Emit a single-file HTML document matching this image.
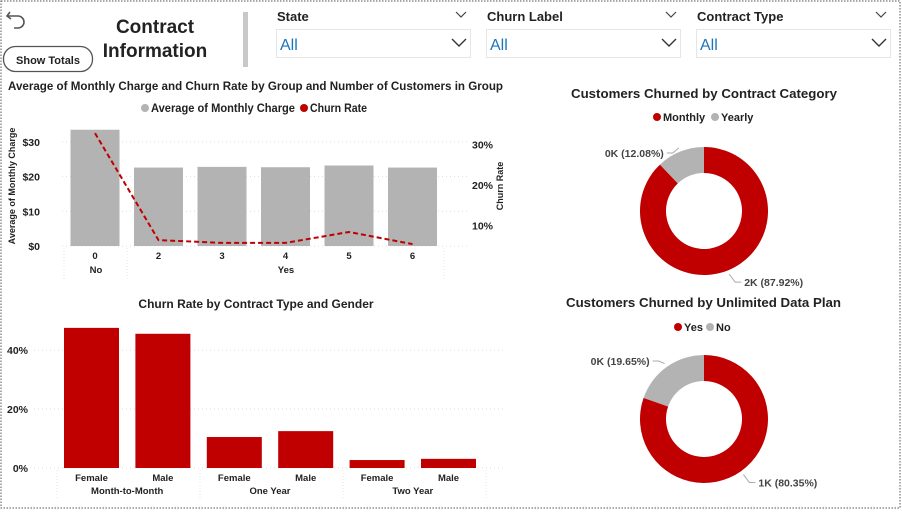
<!DOCTYPE html>
<html><head><meta charset="utf-8">
<style>
body{margin:0;width:902px;height:510px;overflow:hidden;background:#fff;font-family:"Liberation Sans","DejaVu Sans",sans-serif;}
svg text{font-family:"Liberation Sans","DejaVu Sans",sans-serif;}
</style></head>
<body>
<svg id="s" width="902" height="510" xmlns="http://www.w3.org/2000/svg">
<rect x="1" y="1" width="899" height="507" fill="none" stroke="#555" stroke-dasharray="1.5,1.5"/>
<g><path d="M10 12 L7 16 L11 19 M7 16 H18 a6 6 0 0 1 0 12 H14" fill="none" stroke="#555" stroke-width="1.6"/></g>
<g><rect x="3.5" y="46.5" width="89" height="25" rx="12" fill="#fff" stroke="#555" stroke-width="1.3"/><text x="48" y="64" font-size="11" font-weight="bold" text-anchor="middle" fill="#222">Show Totals</text></g>
<text x="155" y="33" font-size="19" font-weight="bold" text-anchor="middle" fill="#222">Contract</text>
<text x="155" y="57" font-size="19" font-weight="bold" text-anchor="middle" fill="#222">Information</text>
<rect x="243" y="12" width="5" height="55" fill="#c8c8c8"/>
<g id="slicers"></g>
<text x="8" y="90" font-size="12" font-weight="bold" fill="#222" textLength="495" lengthAdjust="spacingAndGlyphs">Average of Monthly Charge and Churn Rate by Group and Number of Customers in Group</text>
<g><circle cx="145" cy="108" r="4" fill="#b3b3b3"/><text x="151" y="112" font-size="11.5" font-weight="bold" fill="#222" textLength="144" lengthAdjust="spacingAndGlyphs">Average of Monthly Charge</text><circle cx="304" cy="108" r="4" fill="#c00000"/><text x="310" y="112" font-size="11.5" font-weight="bold" fill="#222" textLength="57" lengthAdjust="spacingAndGlyphs">Churn Rate</text></g>
<text transform="translate(15,186) rotate(-90)" font-size="9" font-weight="bold" text-anchor="middle" fill="#222">Average of Monthly Charge</text>
<text transform="translate(503,186) rotate(-90)" font-size="9" font-weight="bold" text-anchor="middle" fill="#222">Churn Rate</text>
<g id="c1"></g>
<text x="256" y="308" font-size="12" font-weight="bold" text-anchor="middle" fill="#222">Churn Rate by Contract Type and Gender</text>
<g id="c2"></g>
<text x="571" y="98" font-size="12.5" font-weight="bold" fill="#222" textLength="266" lengthAdjust="spacingAndGlyphs">Customers Churned by Contract Category</text>
<g><circle cx="657" cy="117" r="4" fill="#c00000"/><text x="663" y="121" font-size="11" font-weight="bold" fill="#222">Monthly</text><circle cx="715" cy="117" r="4" fill="#b3b3b3"/><text x="721" y="121" font-size="11" font-weight="bold" fill="#222">Yearly</text></g>
<text x="566" y="307" font-size="12.5" font-weight="bold" fill="#222" textLength="275" lengthAdjust="spacingAndGlyphs">Customers Churned by Unlimited Data Plan</text>
<g><circle cx="678" cy="327" r="4" fill="#c00000"/><text x="684" y="331" font-size="11" font-weight="bold" fill="#222">Yes</text><circle cx="710" cy="327" r="4" fill="#b3b3b3"/><text x="716" y="331" font-size="11" font-weight="bold" fill="#222">No</text></g>
<g id="d1"></g><g id="d2"></g>
</svg>
<script>
const NS="http://www.w3.org/2000/svg";
function mk(p,t,a,txt){const e=document.createElementNS(NS,t);for(const k in a)e.setAttribute(k,a[k]);if(txt!==undefined)e.textContent=txt;p.appendChild(e);return e;}
const slicerNames=["State","Churn Label","Contract Type"];
const slicerX=[276,486,696];
const sl=document.getElementById('slicers');
slicerNames.forEach((n,i)=>{const x=slicerX[i];
 const g=mk(sl,'g',{});
 
 
 mk(g,'text',{x:x+1,y:21,'font-size':13,'font-weight':'bold',fill:'#222'},n);
 mk(g,'path',{d:`M${x+180} 12 l5 5 l5 -5`,fill:'none',stroke:'#444','stroke-width':1.2});
 mk(g,'rect',{x:x+0.5,y:29.5,width:194,height:28,fill:'#fff',stroke:'#e6e6e6'});
 mk(g,'text',{x:x+4,y:50,'font-size':16,fill:'#1b75bb'},'All');
 mk(g,'path',{d:`M${x+176} 39 l7 7 l7 -7`,fill:'none',stroke:'#333','stroke-width':1.4});
});
const c1Cats=["0","2","3","4","5","6"];
const c1Charge=[33.5,22.6,22.8,22.7,23.2,22.6];
const c1Churn=[32.8,6.4,5.7,5.7,8.4,5.4];
const c1LeftTicks=[0,10,20,30];
const c1RightTicks=[10,20,30];
const c1=document.getElementById('c1');
const y1=v=>246-v*3.47, y1r=v=>266-v*4.05, x1=i=>95+i*63.5;
c1LeftTicks.forEach(t=>{mk(c1,'line',{x1:62,x2:470,y1:y1(t),y2:y1(t),stroke:'#ddd','stroke-dasharray':'1,3'});
 const e=mk(c1,'text',{x:40,y:y1(t)+4,'font-size':10.5,'font-weight':'bold','text-anchor':'end',fill:'#222'},'$'+t);
 });
c1RightTicks.forEach(t=>{const e=mk(c1,'text',{x:472,y:y1r(t)+4,'font-size':10.5,'font-weight':'bold',fill:'#222'},t+'%');
 });
c1Cats.forEach((c,i)=>{const b=mk(c1,'rect',{x:x1(i)-24.5,y:y1(c1Charge[i]),width:49,height:246-y1(c1Charge[i]),fill:'#b3b3b3'});
 
 mk(c1,'text',{x:x1(i),y:259,'font-size':9.5,'font-weight':'bold','text-anchor':'middle',fill:'#222'},c);});
mk(c1,'text',{x:96,y:273,'font-size':9.5,'font-weight':'bold','text-anchor':'middle',fill:'#222'},'No');
mk(c1,'text',{x:286,y:273,'font-size':9.5,'font-weight':'bold','text-anchor':'middle',fill:'#222'},'Yes');
[64,127,444].forEach(x=>mk(c1,'line',{x1:x,x2:x,y1:248,y2:280,stroke:'#e3e3e3','stroke-dasharray':'1,2'}));
const ln=mk(c1,'polyline',{points:c1Churn.map((v,i)=>x1(i)+','+y1r(v)).join(' '),fill:'none',stroke:'#c00000','stroke-width':2,'stroke-dasharray':'5,3'});

const c2Groups=["Month-to-Month","One Year","Two Year"];
const c2Genders=["Female","Male"];
const c2Values=[47.5,45.5,10.5,12.5,2.7,3.1];
const c2Ticks=[0,20,40];
const c2=document.getElementById('c2');
const y2=v=>468-v*2.95, x2=i=>91.5+i*71.4;
c2Ticks.forEach(t=>{mk(c2,'line',{x1:34,x2:505,y1:y2(t),y2:y2(t),stroke:'#ddd','stroke-dasharray':'1,3'});
 const e=mk(c2,'text',{x:28,y:y2(t)+4,'font-size':10.5,'font-weight':'bold','text-anchor':'end',fill:'#222'},t+'%');
 });
c2Values.forEach((v,i)=>{const b=mk(c2,'rect',{x:x2(i)-27.5,y:y2(v),width:55,height:468-y2(v),fill:'#c00000'});
 
 
 mk(c2,'text',{x:x2(i),y:481,'font-size':9.5,'font-weight':'bold','text-anchor':'middle',fill:'#222'},c2Genders[i%2]);});
c2Groups.forEach((g,j)=>mk(c2,'text',{x:(x2(2*j)+x2(2*j+1))/2,y:494,'font-size':9.5,'font-weight':'bold','text-anchor':'middle',fill:'#222'},g));
[57,200,343,486].forEach(x=>mk(c2,'line',{x1:x,x2:x,y1:470,y2:498,stroke:'#e3e3e3','stroke-dasharray':'1,2'}));
const d1Labels=["Monthly","Yearly"], d1Values=[87.92,12.08], d1Text=["2K (87.92%)","0K (12.08%)"];
const d2Labels=["Yes","No"], d2Values=[80.35,19.65], d2Text=["1K (80.35%)","0K (19.65%)"];
function donut(id,cy,labels,vals,txt){const g=document.getElementById(id);const cx=704,R=64,r=38;const cols=['#c00000','#b3b3b3'];
 let a0=0;const tot=vals.reduce((a,b)=>a+b,0);
 vals.forEach((v,i)=>{const a1=a0+v/tot*2*Math.PI;const large=(a1-a0)>Math.PI?1:0;
  const p=(rr,a)=>[cx+rr*Math.sin(a),cy-rr*Math.cos(a)];
  const [ax,ay]=p(R,a0),[bx,by]=p(R,a1),[cx2,cy2]=p(r,a1),[dx,dy]=p(r,a0);
  const s=mk(g,'path',{d:`M${ax} ${ay} A${R} ${R} 0 ${large} 1 ${bx} ${by} L${cx2} ${cy2} A${r} ${r} 0 ${large} 0 ${dx} ${dy}Z`,fill:cols[i]});
  
  const mid=(a0+a1)/2;const [lx,ly]=p(R+4,mid);
  if(Math.sin(mid)>0){mk(g,'polyline',{points:`${lx},${ly} ${lx+6},${ly+8} ${lx+12},${ly+8}`,fill:'none',stroke:'#aaa'});
   mk(g,'text',{x:lx+15,y:ly+12,'font-size':10.5,'font-weight':'bold',fill:'#444'},txt[i]);}
  else{const ey=cy-R+6;mk(g,'polyline',{points:`${lx},${ly} ${lx-6},${ey} ${lx-12},${ey}`,fill:'none',stroke:'#aaa'});
   mk(g,'text',{x:lx-15,y:ey+4,'font-size':10.5,'font-weight':'bold','text-anchor':'end',fill:'#444'},txt[i]);}
  a0=a1;});}
donut('d1',211,d1Labels,d1Values,d1Text);
donut('d2',419,d2Labels,d2Values,d2Text);
</script>
</body></html>
